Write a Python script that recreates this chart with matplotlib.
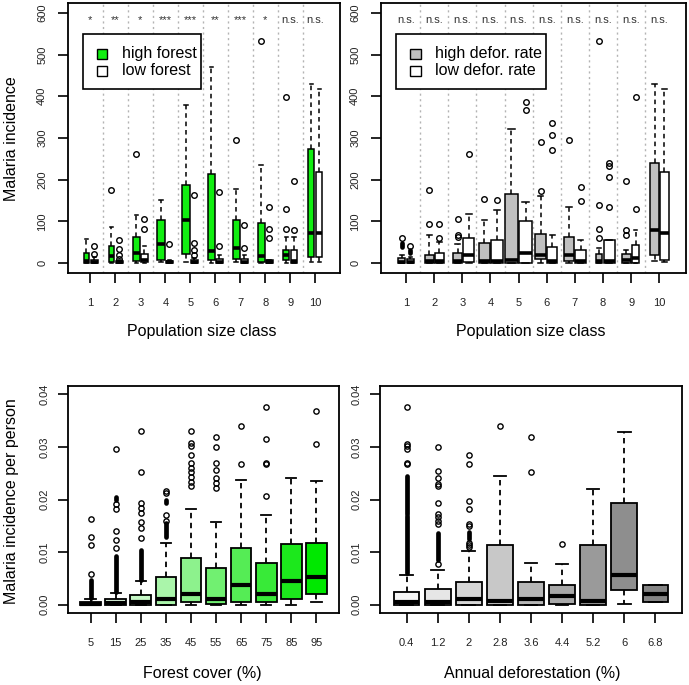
import matplotlib.pyplot as plt
from matplotlib.patches import Rectangle

plt.rcParams['font.family'] = ['Liberation Sans', 'DejaVu Sans']

# ---- top panels: malaria incidence by population size class ----
pop_class = [1, 2, 3, 4, 5, 6, 7, 8, 9, 10]
sig_forest = ['*', '**', '*', '***', '***', '**', '***', '*', 'n.s.', 'n.s.']
sig_defor = ['n.s.'] * 10

# (lower whisker, q1, median, q3, upper whisker)
high_forest = [(0, 0, 4, 24, 58), (0, 3, 16, 40, 86), (0, 5, 24, 62, 116),
               (2, 6, 46, 102, 152), (3, 22, 102, 188, 378), (0, 6, 28, 214, 470),
               (2, 10, 36, 102, 178), (0, 3, 16, 96, 236), (0, 6, 20, 32, 62),
               (3, 14, 72, 274, 430)]
high_forest_out = [[], [176], [262], [], [], [], [296], [532], [82, 130, 398], []]
low_forest = [(0, 0, 3, 8, 14), (0, 0, 2, 5, 8), (0, 2, 8, 22, 40),
              (0, 0, 2, 5, 8), (0, 0, 3, 8, 12), (0, 0, 3, 10, 20),
              (0, 0, 3, 10, 20), (0, 0, 3, 6, 8), (0, 0, 4, 32, 62),
              (3, 14, 72, 218, 418)]
low_forest_out = [[22, 40], [10, 20, 34, 54], [82, 106], [46], [18, 32, 48, 162],
                  [40, 171], [36, 92], [60, 82, 134], [80, 196], []]

high_defor = [(0, 0, 3, 12, 18), (0, 0, 4, 20, 66), (0, 0, 4, 24, 45),
              (0, 0, 4, 48, 104), (0, 0, 8, 166, 322), (0, 10, 18, 70, 160),
              (0, 4, 18, 62, 134), (0, 0, 4, 22, 36), (0, 0, 6, 22, 30),
              (4, 18, 78, 240, 430)]
high_defor_out = [[60], [94, 176], [62, 66, 106], [154], [], [172, 290], [296],
                  [60, 82, 140, 532], [68, 78, 196], []]
high_defor_dense = [[(38, 48)], [], [], [], [], [], [], [], [], []]
low_defor = [(0, 0, 3, 10, 14), (0, 0, 4, 24, 50), (0, 2, 18, 59, 118),
             (0, 0, 4, 54, 126), (0, 0, 24, 100, 146), (0, 0, 4, 38, 68),
             (0, 0, 4, 32, 54), (0, 0, 4, 54, 56), (0, 0, 12, 44, 80),
             (3, 8, 72, 218, 418)]
low_defor_out = [[40], [60, 94], [262], [152], [368, 386], [270, 306, 336],
                 [148, 182], [134, 206, 232, 240], [130, 398], []]
low_defor_dense = [[(24, 30)], [], [], [], [], [], [], [], [], []]

# ---- bottom panels: malaria incidence per person ----
cover_labels = ['5', '15', '25', '35', '45', '55', '65', '75', '85', '95']
cover_stats = [(0, 0, 0.0002, 0.0005, 0.001), (0, 0, 0.0003, 0.0011, 0.0022),
               (0, 0, 0.0005, 0.0019, 0.0045), (0, 0, 0.001, 0.0053, 0.0118),
               (0, 0.0005, 0.0021, 0.0088, 0.0182), (0, 0.0002, 0.0011, 0.0069, 0.0157),
               (0, 0.0004, 0.0038, 0.0107, 0.0238), (0, 0.0005, 0.002, 0.008, 0.0171),
               (0, 0.001, 0.0045, 0.0115, 0.024), (0.0005, 0.002, 0.0053, 0.0118, 0.0235)]
cover_out = [[0.0059, 0.0113, 0.0129, 0.0163],
             [0.0107, 0.0123, 0.014, 0.0182, 0.0191, 0.0297],
             [0.0126, 0.0145, 0.0158, 0.0174, 0.0183, 0.0193, 0.0253, 0.033],
             [0.016, 0.0171, 0.0212, 0.0216],
             [0.0225, 0.0234, 0.0242, 0.0252, 0.026, 0.0269, 0.0285, 0.0301, 0.0308, 0.033],
             [0.0222, 0.0231, 0.0241, 0.0257, 0.0269, 0.0299, 0.0318],
             [0.0267, 0.034],
             [0.0206, 0.0267, 0.0269, 0.0316, 0.0376],
             [],
             [0.0305, 0.0368]]
cover_dense = [[(0.0012, 0.0046)], [(0.0024, 0.0092), (0.0199, 0.0205)],
               [(0.0047, 0.0104)], [(0.0128, 0.0155), (0.0193, 0.02)],
               [], [], [], [], [], []]
cover_colors = ['#ffffff', '#e2fbe2', '#c6f8c6', '#aaf5aa', '#8df28d',
                '#71f071', '#55ec55', '#38ea38', '#1ce81c', '#00e800']

defor_labels = ['0.4', '1.2', '2', '2.8', '3.6', '4.4', '5.2', '6', '6.8']
defor_stats = [(0, 0, 0.0005, 0.0024, 0.0057), (0, 0, 0.0005, 0.0029, 0.0066),
               (0, 0, 0.0011, 0.0043, 0.0102), (0, 0, 0.0006, 0.0113, 0.0245),
               (0, 0, 0.001, 0.0043, 0.008), (0, 0.0002, 0.0017, 0.0038, 0.0077),
               (0, 0, 0.0006, 0.0113, 0.022), (0.0002, 0.0027, 0.0056, 0.0193, 0.0329),
               (0.0005, 0.0005, 0.0021, 0.0038, 0.0038)]
defor_out = [[0.0268, 0.027, 0.0297, 0.0302, 0.0305, 0.0376],
             [0.0077, 0.0154, 0.016, 0.0167, 0.0173, 0.0193, 0.0225, 0.023, 0.024, 0.0255, 0.030],
             [0.011, 0.0114, 0.0118, 0.0149, 0.0153, 0.0182, 0.0198, 0.0267, 0.0285],
             [0.034], [0.0253, 0.0318], [0.0115], [], [], []]
defor_dense = [[(0.006, 0.0168), (0.0173, 0.0245)], [(0.0085, 0.0137)],
               [(0.0125, 0.0138)], [], [], [], [], [], []]
defor_colors = ['#f7f7f7', '#e6e6e6', '#d6d6d6', '#c8c8c8', '#b6b6b6',
                '#a8a8a8', '#9a9a9a', '#8e8e8e', '#858585']

TICK_COLOR = '#222222'
LABEL_SIZE = 11.5


def draw_boxes(ax, five, outs, dense, positions, widths, colors,
               lw=1.1, med_lw=2.6, ms=4.0):
    stats = [dict(whislo=a, q1=b, med=c, q3=d, whishi=e, fliers=o)
             for (a, b, c, d, e), o in zip(five, outs)]
    art = ax.bxp(stats, positions=positions, widths=widths,
                 capwidths=[w * 0.5 for w in widths],
                 patch_artist=True, manage_ticks=False,
                 boxprops=dict(edgecolor='black', linewidth=lw),
                 whiskerprops=dict(color='black', linewidth=lw, linestyle=(0, (3, 2.5))),
                 capprops=dict(color='black', linewidth=lw),
                 medianprops=dict(color='black', linewidth=med_lw, solid_capstyle='butt'),
                 flierprops=dict(marker='o', markersize=ms, markerfacecolor='none',
                                 markeredgecolor='black', markeredgewidth=1.0,
                                 linestyle='none'))
    for patch, c in zip(art['boxes'], colors):
        patch.set_facecolor(c)
    for x, ranges in zip(positions, dense):
        for lo, hi in ranges:
            ax.vlines(x, lo, hi, colors='black', linewidth=3.4,
                      capstyle='round', zorder=3)


def style_axes(ax, xlim, ylim, xticks, xlabels, yticks, ylabels, ypad):
    ax.set_xlim(*xlim)
    ax.set_ylim(*ylim)
    ax.set_xticks(xticks, xlabels)
    ax.set_yticks(yticks, ylabels)
    ax.tick_params(axis='both', length=7, width=1.2, labelsize=8,
                   colors='black', labelcolor=TICK_COLOR)
    ax.tick_params(axis='x', pad=11)
    ax.tick_params(axis='y', pad=ypad)
    for lbl in ax.get_yticklabels():
        lbl.set_rotation(90)
        lbl.set_va('center')
    for sp in ax.spines.values():
        sp.set_linewidth(1.3)


def draw_legend(ax, box, sq_x, text_x, rows, labels, colors, sq_w, sq_h):
    x0, y0, x1, y1 = box
    ax.add_patch(Rectangle((x0, y0), x1 - x0, y1 - y0, transform=ax.transAxes,
                           facecolor='white', edgecolor='black', linewidth=1.2,
                           zorder=5))
    for y, lab, c in zip(rows, labels, colors):
        ax.add_patch(Rectangle((sq_x, y - sq_h / 2), sq_w, sq_h, transform=ax.transAxes,
                               facecolor=c, edgecolor='black', linewidth=1.0, zorder=6))
        ax.text(text_x, y, lab, transform=ax.transAxes, fontsize=11.5,
                ha='left', va='center', zorder=6)


fig = plt.figure(figsize=(6.89, 6.85), dpi=100)
ax_tl = fig.add_axes([0.0987, 0.6015, 0.3948, 0.3942])
ax_tr = fig.add_axes([0.553, 0.6015, 0.4427, 0.3942])
ax_bl = fig.add_axes([0.0987, 0.1051, 0.3933, 0.3314])
ax_br = fig.add_axes([0.5515, 0.1051, 0.4383, 0.3314])

pop_ticks = [0, 100, 200, 300, 400, 500, 600]

# top-left: high vs low forest
for x in pop_class[:-1]:
    ax_tl.axvline(x + 0.5, color='#b4b4b4', linestyle=(0, (1.5, 2.5)), linewidth=1, zorder=0)
tl_high_w = [0.2, 0.23, 0.27, 0.33, 0.32, 0.27, 0.29, 0.29, 0.24, 0.24]
tl_low_w = [0.27, 0.29, 0.29, 0.29, 0.29, 0.27, 0.27, 0.27, 0.27, 0.24]
draw_boxes(ax_tl, high_forest, high_forest_out, [[]] * 10,
           [x - 0.16 for x in pop_class], tl_high_w, ['#11ee11'] * 10)
draw_boxes(ax_tl, low_forest, low_forest_out, [[]] * 10,
           [x + 0.16 for x in pop_class], tl_low_w, ['white'] * 10)
for x, s in zip(pop_class, sig_forest):
    ax_tl.text(x, 575, s, ha='center', va='baseline', fontsize=8, color='#333333')
style_axes(ax_tl, (0.1, 11.0), (-24, 624), pop_class, [str(x) for x in pop_class],
           pop_ticks, [str(v) for v in pop_ticks], 8)
ax_tl.set_xlabel('Population size class', fontsize=LABEL_SIZE)
ax_tl.xaxis.set_label_coords(0.49, -0.19)
ax_tl.set_ylabel('Malaria incidence', fontsize=LABEL_SIZE)
ax_tl.yaxis.set_label_coords(-0.18, 0.496)
draw_legend(ax_tl, (0.055, 0.681, 0.489, 0.885), 0.107, 0.199, (0.811, 0.748),
            ['high forest', 'low forest'], ['#11ee11', 'white'], 0.036, 0.036)

# top-right: high vs low deforestation rate
for x in pop_class[:-1]:
    ax_tr.axvline(x + 0.5, color='#b4b4b4', linestyle=(0, (1.5, 2.5)), linewidth=1, zorder=0)
tr_high_w = [0.27, 0.3, 0.3, 0.39, 0.47, 0.39, 0.38, 0.24, 0.3, 0.3]
tr_low_w = [0.27, 0.32, 0.41, 0.41, 0.47, 0.36, 0.36, 0.41, 0.27, 0.32]
draw_boxes(ax_tr, high_defor, high_defor_out, high_defor_dense,
           [x - w / 2 - 0.02 for x, w in zip(pop_class, tr_high_w)], tr_high_w,
           ['#c0c0c0'] * 10)
draw_boxes(ax_tr, low_defor, low_defor_out, low_defor_dense,
           [x + w / 2 + 0.02 for x, w in zip(pop_class, tr_low_w)], tr_low_w,
           ['white'] * 10)
for x, s in zip(pop_class, sig_defor):
    ax_tr.text(x, 575, s, ha='center', va='baseline', fontsize=8, color='#333333')
style_axes(ax_tr, (0.11, 10.95), (-24, 624), pop_class, [str(x) for x in pop_class],
           pop_ticks, [str(v) for v in pop_ticks], 8)
ax_tr.set_xlabel('Population size class', fontsize=LABEL_SIZE)
ax_tr.xaxis.set_label_coords(0.49, -0.19)
draw_legend(ax_tr, (0.049, 0.681, 0.541, 0.885), 0.095, 0.177, (0.811, 0.748),
            ['high defor. rate', 'low defor. rate'], ['#c0c0c0', 'white'], 0.036, 0.036)

rate_ticks = [0.0, 0.01, 0.02, 0.03, 0.04]
rate_labels = ['0.00', '0.01', '0.02', '0.03', '0.04']

# bottom-left: forest cover
cover_pos = list(range(1, len(cover_labels) + 1))
draw_boxes(ax_bl, cover_stats, cover_out, cover_dense, cover_pos,
           [0.82] * len(cover_pos), cover_colors, lw=1.3, med_lw=3.0, ms=3.8)
style_axes(ax_bl, (0.1, 10.9), (-0.0016, 0.0416), cover_pos, cover_labels,
           rate_ticks, rate_labels, 6)
ax_bl.set_xlabel('Forest cover (%)', fontsize=LABEL_SIZE)
ax_bl.xaxis.set_label_coords(0.494, -0.235)
ax_bl.set_ylabel('Malaria incidence per person', fontsize=LABEL_SIZE)
ax_bl.yaxis.set_label_coords(-0.18, 0.493)

# bottom-right: annual deforestation
defor_pos = list(range(1, len(defor_labels) + 1))
draw_boxes(ax_br, defor_stats, defor_out, defor_dense, defor_pos,
           [0.82] * len(defor_pos), defor_colors, lw=1.3, med_lw=3.0, ms=3.8)
style_axes(ax_br, (0.14, 9.86), (-0.0016, 0.0416), defor_pos, defor_labels,
           rate_ticks, rate_labels, 6)
ax_br.set_xlabel('Annual deforestation (%)', fontsize=LABEL_SIZE)
ax_br.xaxis.set_label_coords(0.503, -0.235)

fig.savefig('out.png', dpi=100)
